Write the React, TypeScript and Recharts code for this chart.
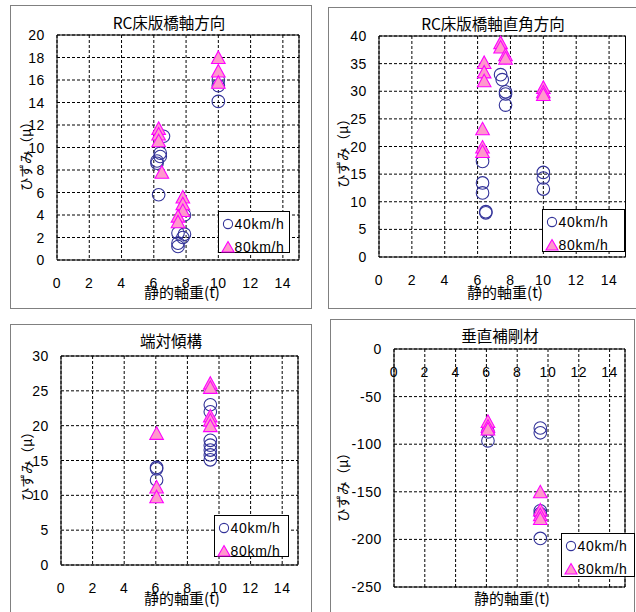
import React from 'react';
import { ScatterChart, Scatter, XAxis, YAxis, CartesianGrid, ReferenceArea, Legend } from 'recharts';

// ---------- data ----------
const xTicks = [0, 2, 4, 6, 8, 10, 12, 14];
const legendNames = ['40km/h', '80km/h'];
const xAxisLabel = '静的軸重(t)';
const yAxisLabel = 'ひずみ（μ）';

// RC床版橋軸方向
const axialTitle = 'RC床版橋軸方向';
const axialTicks = [0, 2, 4, 6, 8, 10, 12, 14, 16, 18, 20];
const axial40 = [
  { x: 10.0, y: 16.0 }, { x: 10.0, y: 15.5 }, { x: 10.0, y: 14.1 },
  { x: 6.6, y: 11.0 }, { x: 6.4, y: 9.5 }, { x: 6.4, y: 9.2 }, { x: 6.2, y: 8.8 }, { x: 6.2, y: 8.6 }, { x: 6.3, y: 5.8 },
  { x: 7.9, y: 4.0 }, { x: 7.5, y: 2.4 }, { x: 7.9, y: 2.3 }, { x: 7.8, y: 2.0 }, { x: 7.5, y: 1.5 }, { x: 7.5, y: 1.2 },
];
const axial80 = [
  { x: 10.0, y: 18.0 }, { x: 10.0, y: 16.8 }, { x: 10.0, y: 15.8 },
  { x: 6.3, y: 11.7 }, { x: 6.3, y: 11.2 }, { x: 6.3, y: 10.6 }, { x: 6.5, y: 7.8 },
  { x: 7.8, y: 5.6 }, { x: 7.8, y: 5.0 }, { x: 7.8, y: 4.4 }, { x: 7.5, y: 3.9 }, { x: 7.5, y: 3.4 },
];

// RC床版橋軸直角方向
const transTitle = 'RC床版橋軸直角方向';
const transTicks = [0, 5, 10, 15, 20, 25, 30, 35, 40];
const trans40 = [
  { x: 7.4, y: 33.0 }, { x: 7.5, y: 32.1 }, { x: 7.7, y: 29.9 }, { x: 7.7, y: 29.5 }, { x: 7.7, y: 27.5 },
  { x: 6.3, y: 17.3 }, { x: 6.3, y: 13.4 }, { x: 6.3, y: 11.6 }, { x: 6.5, y: 8.2 }, { x: 6.5, y: 8.0 },
  { x: 10.0, y: 15.3 }, { x: 10.0, y: 14.3 }, { x: 10.0, y: 12.3 },
];
const trans80 = [
  { x: 7.4, y: 38.8 }, { x: 7.4, y: 38.0 }, { x: 7.7, y: 36.6 }, { x: 7.7, y: 36.0 },
  { x: 6.4, y: 35.2 }, { x: 6.4, y: 33.5 }, { x: 6.4, y: 31.9 },
  { x: 10.0, y: 30.7 }, { x: 10.0, y: 29.9 }, { x: 10.0, y: 29.4 },
  { x: 6.3, y: 23.2 }, { x: 6.3, y: 19.9 }, { x: 6.3, y: 19.1 },
];

// 端対傾構
const endTitle = '端対傾構';
const endTicks = [0, 5, 10, 15, 20, 25, 30];
const end40 = [
  { x: 6.05, y: 14.0 }, { x: 6.05, y: 13.8 }, { x: 6.05, y: 12.2 },
  { x: 9.45, y: 23.0 }, { x: 9.45, y: 22.0 }, { x: 9.45, y: 17.9 }, { x: 9.45, y: 17.2 },
  { x: 9.45, y: 16.5 }, { x: 9.45, y: 15.8 }, { x: 9.45, y: 15.1 },
];
const end80 = [
  { x: 6.05, y: 18.9 }, { x: 6.05, y: 11.2 }, { x: 6.05, y: 9.8 },
  { x: 9.45, y: 26.1 }, { x: 9.45, y: 25.5 }, { x: 9.45, y: 21.4 }, { x: 9.45, y: 20.8 }, { x: 9.45, y: 20.0 },
];

// 垂直補剛材
const stiffTitle = '垂直補剛材';
const stiffTicks = [0, -50, -100, -150, -200, -250];
const stiff40 = [
  { x: 6.1, y: -87 }, { x: 6.1, y: -96.5 },
  { x: 9.5, y: -83 }, { x: 9.5, y: -88 },
  { x: 9.5, y: -170 }, { x: 9.5, y: -173 }, { x: 9.5, y: -199 },
];
const stiff80 = [
  { x: 6.1, y: -76 }, { x: 6.1, y: -81 }, { x: 6.1, y: -84 },
  { x: 9.5, y: -150 }, { x: 9.5, y: -169 }, { x: 9.5, y: -174 }, { x: 9.5, y: -178 },
];

// ---------- styles ----------
const BLUE = '#333399';
const PINK = '#FF99CC';
const MAGENTA = '#FF00FF';
const NUM_FONT = '"Liberation Sans", Arial, sans-serif';
const JP_FONT = '"Noto Sans CJK JP", "Noto Sans", sans-serif';

const CircleMark = (props: any) => {
  const { cx, cy } = props;
  if (cx == null || cy == null) return null;
  return <circle cx={cx} cy={cy} r={6.3} fill="none" stroke={BLUE} strokeWidth={1.1} />;
};
const TriMark = (props: any) => {
  const { cx, cy } = props;
  if (cx == null || cy == null) return null;
  return (
    <polygon
      points={`${cx},${cy - 6.5} ${cx + 6.8},${cy + 6} ${cx - 6.8},${cy + 6}`}
      fill={PINK}
      stroke={MAGENTA}
      strokeWidth={1.1}
    />
  );
};

type Box = { L: number; T: number; W: number; H: number };
type Plot = { l: number; t: number; r: number; b: number };
type Pos = { x: number; y: number };

type PanelProps = {
  frame: Box;
  plot: Plot;
  yDomain: [number, number];
  yTicks: number[];
  s40: { x: number; y: number }[];
  s80: { x: number; y: number }[];
  title: string;
  titlePos: Pos;
  xLabelPos: Pos;
  yLabelPos: Pos;
  legend: Box;
  topAxis?: boolean;
};

function LegendBox({ w, h }: { w: number; h: number }) {
  return (
    <div style={{ width: w, height: h, boxSizing: 'border-box', border: '1px solid #000', background: '#fff' }}>
      <svg width={w - 2} height={h - 2} style={{ display: 'block', overflow: 'visible' }}>
        <circle cx={9} cy={12} r={4.6} fill="none" stroke={BLUE} strokeWidth={1.1} />
        <text x={15.5} y={12} dy="0.36em" fontFamily={NUM_FONT} fontSize={14} letterSpacing={0.7} fill="#000">
          {legendNames[0]}
        </text>
        <polygon points={`9,${35 - 5.5} ${9 + 6},${35 + 5} ${9 - 6},${35 + 5}`} fill={PINK} stroke={MAGENTA} strokeWidth={1.1} />
        <text x={15.5} y={35} dy="0.36em" fontFamily={NUM_FONT} fontSize={14} letterSpacing={0.7} fill="#000">
          {legendNames[1]}
        </text>
      </svg>
    </div>
  );
}

function Panel(p: PanelProps) {
  const YW = 30;
  const XH = 20;
  const { L, T, W, H } = p.frame;
  const { l, t, r, b } = p.plot;
  const margin = p.topAxis
    ? { left: l - L - YW, right: L + W - r, top: t - T - XH, bottom: T + H - b }
    : { left: l - L - YW, right: L + W - r, top: t - T, bottom: T + H - b - XH };
  const tickLabelY = (p.topAxis ? t - T : b - T) + 23;
  const xTick = (props: any) => (
    <text x={props.x} y={tickLabelY} dy="0.36em" textAnchor="middle" fontFamily={NUM_FONT} fontSize={14} letterSpacing={0.6} fill="#000">
      {props.payload.value}
    </text>
  );
  const yTick = (props: any) => (
    <text x={l - L - 12} y={props.y} dy="0.36em" textAnchor="end" fontFamily={NUM_FONT} fontSize={14} letterSpacing={0.6} fill="#000">
      {props.payload.value}
    </text>
  );
  return (
    <div
      style={{
        position: 'absolute',
        left: L,
        top: T,
        width: W,
        height: H,
        outline: '1px solid #808080',
        outlineOffset: '-1px',
        background: '#fff',
      }}
    >
      <ScatterChart width={W} height={H} margin={margin}>
        <CartesianGrid stroke="#000" strokeDasharray="3 2" strokeWidth={1} />
        <XAxis
          type="number"
          dataKey="x"
          domain={[0, 15]}
          ticks={xTicks}
          orientation={p.topAxis ? 'top' : 'bottom'}
          height={XH}
          axisLine={false}
          tickLine={false}
          tickSize={0}
          tickMargin={0}
          tick={xTick}
          interval={0}
        />
        <YAxis
          type="number"
          dataKey="y"
          domain={p.yDomain}
          ticks={p.yTicks}
          width={YW}
          axisLine={false}
          tickLine={false}
          tickSize={0}
          tickMargin={0}
          tick={yTick}
          interval={0}
        />
        <ReferenceArea x1={0} x2={15} y1={p.yDomain[0]} y2={p.yDomain[1]} fill="none" stroke="#000" strokeWidth={1} />
        <Scatter name={legendNames[0]} data={p.s40} shape={CircleMark} isAnimationActive={false} />
        <Scatter name={legendNames[1]} data={p.s80} shape={TriMark} isAnimationActive={false} />
        <Legend
          layout="horizontal"
          verticalAlign="middle"
          align="center"
          wrapperStyle={{ left: p.legend.L - L, top: p.legend.T - T, width: p.legend.W, height: p.legend.H, margin: 0 }}
          content={() => <LegendBox w={p.legend.W} h={p.legend.H} />}
        />
        <text x={p.titlePos.x - L} y={p.titlePos.y - T} dy="0.36em" textAnchor="middle" fontFamily={JP_FONT} fontSize={15.5} fill="#000">
          {p.title}
        </text>
        <text x={p.xLabelPos.x - L} y={p.xLabelPos.y - T} dy="0.36em" textAnchor="middle" fontFamily={JP_FONT} fontSize={15} fill="#000">
          {xAxisLabel}
        </text>
        <text
          x={p.yLabelPos.x - L}
          y={p.yLabelPos.y - T}
          dy="0.36em"
          textAnchor="middle"
          fontFamily={JP_FONT}
          fontSize={13.5}
          fill="#000"
          transform={`rotate(-90, ${p.yLabelPos.x - L}, ${p.yLabelPos.y - T})`}
        >
          {yAxisLabel}
        </text>
      </ScatterChart>
    </div>
  );
}

export default function App() {
  return (
    <div style={{ position: 'absolute', left: 0, top: 0, width: 636, height: 612, overflow: 'hidden', background: '#fff' }}>
      <Panel
        frame={{ L: 10, T: 5, W: 302, H: 304 }}
        plot={{ l: 57, t: 35, r: 299, b: 260 }}
        yDomain={[0, 20]}
        yTicks={axialTicks}
        s40={axial40}
        s80={axial80}
        title={axialTitle}
        titlePos={{ x: 169, y: 23 }}
        xLabelPos={{ x: 182, y: 293 }}
        yLabelPos={{ x: 26, y: 153 }}
        legend={{ L: 218, T: 211, W: 72, H: 42 }}
      />
      <Panel
        frame={{ L: 328, T: 7, W: 320, H: 302 }}
        plot={{ l: 379, t: 36, r: 625.5, b: 257 }}
        yDomain={[0, 40]}
        yTicks={transTicks}
        s40={trans40}
        s80={trans80}
        title={transTitle}
        titlePos={{ x: 493, y: 24 }}
        xLabelPos={{ x: 505, y: 293 }}
        yLabelPos={{ x: 343, y: 150 }}
        legend={{ L: 542, T: 209, W: 83, H: 43 }}
      />
      <Panel
        frame={{ L: 10, T: 324, W: 302, H: 300 }}
        plot={{ l: 61, t: 356, r: 298, b: 565 }}
        yDomain={[0, 30]}
        yTicks={endTicks}
        s40={end40}
        s80={end80}
        title={endTitle}
        titlePos={{ x: 171, y: 341 }}
        xLabelPos={{ x: 182, y: 599 }}
        yLabelPos={{ x: 27, y: 463 }}
        legend={{ L: 214, T: 515, W: 75, H: 42 }}
      />
      <Panel
        frame={{ L: 330, T: 319, W: 305, H: 300 }}
        plot={{ l: 394, t: 349, r: 625, b: 587 }}
        yDomain={[-250, 0]}
        yTicks={stiffTicks}
        s40={stiff40}
        s80={stiff80}
        title={stiffTitle}
        titlePos={{ x: 500, y: 336 }}
        xLabelPos={{ x: 512, y: 599 }}
        yLabelPos={{ x: 343, y: 484 }}
        legend={{ L: 561, T: 533, W: 74, H: 44 }}
        topAxis
      />
    </div>
  );
}
